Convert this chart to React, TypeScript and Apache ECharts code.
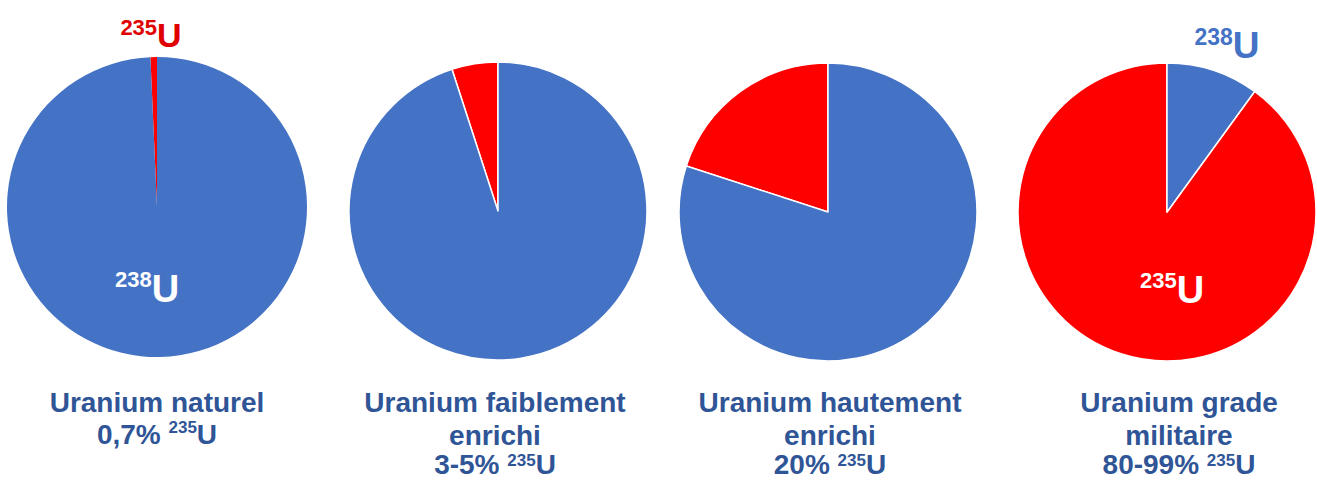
import React, { useEffect, useRef } from "react";
import * as echarts from "echarts";

// ---- data ----
const isotopes = ["235U", "238U"];
const u235Share = [0.7, 5, 20, 90];
const u238Share = [99.3, 95, 80, 10];
const titleMain = [
  ["Uranium naturel"],
  ["Uranium faiblement", "enrichi"],
  ["Uranium hautement", "enrichi"],
  ["Uranium grade", "militaire"],
];
const titleRange = ["0,7%", "3-5%", "20%", "80-99%"];

// ---- layout / style ----
const W = 1317;
const H = 481;
const FONT = "'Liberation Sans', Arial, sans-serif";
const BLUE = "#4472C4";
const RED = "#FF0000";
const TITLE_COLOR = "#2F5597";
const pieCenters: [number, number][] = [
  [157, 207],
  [498, 211],
  [828, 212],
  [1167, 212],
];
const pieRadius = [150, 149, 149, 149];
const pieBorder = [0, 1.5, 1.5, 1.5];
const titleX = [157, 495, 830, 1179];
const titleTop = 386;

function labelRich(supSize: number, uSize: number, color: string) {
  return {
    s: {
      fontSize: supSize,
      fontWeight: "bold",
      fontFamily: FONT,
      fill: color,
      lineHeight: Math.round(uSize * 0.66),
      verticalAlign: "top",
    },
    u: {
      fontSize: uSize,
      fontWeight: "bold",
      fontFamily: FONT,
      fill: color,
      lineHeight: Math.round(uSize * 1.1),
      verticalAlign: "middle",
    },
  };
}

const titleTok = (size: number, lh: number, va: string) => ({
  fontSize: size,
  fontWeight: "bold",
  fontFamily: FONT,
  fill: TITLE_COLOR,
  lineHeight: lh,
  verticalAlign: va,
});

export default function App() {
  const ref = useRef<HTMLDivElement>(null);
  useEffect(() => {
    if (!ref.current) return;
    const chart = echarts.init(ref.current, undefined, { renderer: "svg" });

    const series = u235Share.map((v, i) => ({
      type: "pie",
      center: pieCenters[i],
      radius: pieRadius[i],
      startAngle: 90,
      clockwise: false,
      silent: true,
      z: 1,
      label: { show: false },
      labelLine: { show: false },
      emphasis: { disabled: true },
      itemStyle: { borderColor: "#ffffff", borderWidth: pieBorder[i] },
      data: [
        { name: isotopes[0], value: v, itemStyle: { color: RED } },
        { name: isotopes[1], value: u238Share[i], itemStyle: { color: BLUE } },
      ],
    }));

    const titles = titleMain.map((lines, i) => {
      const last = lines.length > 1 ? "d" : "c";
      const text =
        lines.map((l) => `{b|${l}}`).join("\n") +
        `\n{${last}|${titleRange[i]} }{${last}s|235}{${last}|U}`;
      return {
        type: "text",
        x: titleX[i],
        y: titleTop,
        z: 100,
        style: {
          text,
          align: "center",
          verticalAlign: "top",
          fill: TITLE_COLOR,
          rich: {
            b: titleTok(28, 33, "middle"),
            c: titleTok(28, 31, "middle"),
            cs: titleTok(17, 23, "top"),
            d: titleTok(28, 25, "middle"),
            ds: titleTok(17, 17, "top"),
          },
        },
      };
    });

    const sliceLabels = [
      // pie 1: 238U inside, 235U on top
      { x: 147, y: 268, sup: "238", color: "#ffffff", s: 22, u: 38 },
      { x: 151, y: 16, sup: "235", color: "#E00000", s: 22, u: 34 },
      // pie 4: 235U inside, 238U on top
      { x: 1172, y: 269, sup: "235", color: "#ffffff", s: 22, u: 38 },
      { x: 1227, y: 25, sup: "238", color: BLUE, s: 23, u: 37 },
    ].map((l) => ({
      type: "text",
      x: l.x,
      y: l.y,
      z: 100,
      style: {
        text: `{s|${l.sup}}{u|U}`,
        align: "center",
        verticalAlign: "top",
        fill: l.color,
        rich: labelRich(l.s, l.u, l.color),
      },
    }));

    chart.setOption({
      animation: false,
      backgroundColor: "#ffffff",
      series,
      graphic: { elements: [...titles, ...sliceLabels] },
    });
    return () => chart.dispose();
  }, []);
  return (
    <div
      ref={ref}
      style={{ position: "fixed", left: 0, top: 0, width: W, height: H }}
    />
  );
}
